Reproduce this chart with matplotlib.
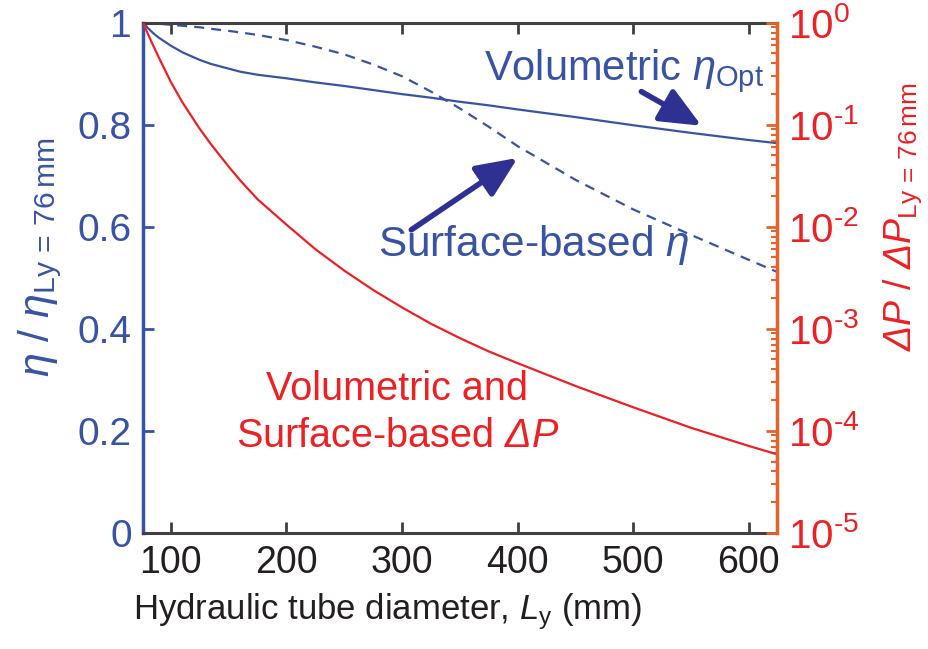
import numpy as np
import matplotlib
matplotlib.use("Agg")
import matplotlib.pyplot as plt
from matplotlib.ticker import LogLocator, NullFormatter, FuncFormatter

plt.rcParams['font.family'] = ['Liberation Sans', 'DejaVu Sans']
plt.rcParams['mathtext.fontset'] = 'custom'
plt.rcParams['mathtext.rm'] = 'Liberation Sans'
plt.rcParams['mathtext.it'] = 'Liberation Sans:italic'
plt.rcParams['mathtext.bf'] = 'Liberation Sans:bold'
# sf slot used for italic capital Greek (ΔP), which \mathit keeps upright
plt.rcParams['mathtext.sf'] = 'Liberation Sans:italic'
plt.rcParams['axes.unicode_minus'] = False

# hydraulic tube diameter Ly (mm)
ly = [76, 80, 85, 90, 100, 110, 125, 135, 150, 160, 175, 200, 225, 250, 275, 300,
      325, 350, 375, 400, 450, 500, 550, 600, 624]
# normalised efficiency, volumetric (optimum)
eta_vol = [1.0, 0.990, 0.979, 0.970, 0.955, 0.942, 0.927, 0.919, 0.910, 0.904, 0.898,
           0.891, 0.883, 0.876, 0.868, 0.860, 0.853, 0.845, 0.838, 0.830, 0.815, 0.799,
           0.784, 0.770, 0.764]
# normalised efficiency, surface-based
eta_surf = [1.0, 1.0, 0.999, 0.998, 0.996, 0.994, 0.991, 0.988, 0.984, 0.981, 0.976,
            0.966, 0.953, 0.938, 0.918, 0.895, 0.865, 0.832, 0.796, 0.758, 0.692, 0.634,
            0.584, 0.535, 0.512]
# normalised pressure drop (same for both approaches)
dp = [1.0, 0.785, 0.589, 0.447, 0.263, 0.166, 0.0912, 0.0638, 0.0389, 0.0285, 0.0186,
      0.0105, 0.00603, 0.00372, 0.0024, 0.00162, 0.00112, 8.1e-4, 6.0e-4, 4.6e-4,
      2.75e-4, 1.7e-4, 1.07e-4, 7.1e-5, 5.9e-5]

xticks = [100, 200, 300, 400, 500, 600]
yticks_left = [0, 0.2, 0.4, 0.6, 0.8, 1]
ytick_labels = ['0', '0.2', '0.4', '0.6', '0.8', '1']

blue = '#3953a4'
navy = '#2e3192'
red = '#ed2024'
orange = '#e5622b'
gray = '#404040'
black = '#231f20'

fig = plt.figure(figsize=(9.29, 6.49), dpi=100)
ax = fig.add_axes([0.154, 0.179, 0.682, 0.786])
ax2 = ax.twinx()

ax.plot(ly, eta_vol, color=blue, lw=1.6)
ax.plot(ly, eta_surf, color=blue, lw=1.6, linestyle=(0, (4.5, 3.2)))
ax2.plot(ly, dp, color=red, lw=1.6)

ax.set_xlim(76, 624)
ax.set_ylim(0, 1)
ax2.set_yscale('log')
ax2.set_ylim(1e-5, 1)

ax.set_xticks(xticks)
ax.set_yticks(yticks_left)
ax.set_yticklabels(ytick_labels)
ax.tick_params(axis='x', direction='in', top=True, length=8, width=2, color=gray,
               labelsize=27, labelcolor=black, pad=9)
ax.tick_params(axis='y', direction='in', length=8, width=2, color=blue,
               labelsize=28, labelcolor=blue, pad=8)


def decade(v, pos):
    return r'$10^{\text{%d}}$' % int(round(np.log10(v)))


ax2.yaxis.set_major_locator(LogLocator(base=10, numticks=10))
ax2.yaxis.set_major_formatter(FuncFormatter(decade))
ax2.yaxis.set_minor_locator(LogLocator(base=10, subs=np.arange(2, 10), numticks=10))
ax2.yaxis.set_minor_formatter(NullFormatter())
ax2.tick_params(axis='y', which='major', direction='in', length=8, width=2, color=orange,
                labelsize=29, labelcolor=red, pad=8)
ax2.tick_params(axis='y', which='minor', direction='in', length=4, width=1.5, color=orange)

for s in ['top', 'bottom']:
    ax.spines[s].set_color(gray)
    ax.spines[s].set_linewidth(2.2)
ax.spines['left'].set_color(blue)
ax.spines['left'].set_linewidth(2.5)
ax.spines['right'].set_visible(False)
ax2.spines['left'].set_visible(False)
ax2.spines['top'].set_visible(False)
ax2.spines['bottom'].set_visible(False)
ax2.spines['right'].set_color(orange)
ax2.spines['right'].set_linewidth(2.5)

ax.set_xlabel(r'Hydraulic tube diameter, $L_{\mathrm{y}}$ (mm)', fontsize=25, color=black)
ax.xaxis.set_label_coords(0.386, -0.115)
ax.set_ylabel(r'$\eta$ / $\eta_{\mathrm{Ly\,=\,76\,mm}}$', fontsize=31, color=blue)
ax.yaxis.set_label_coords(-0.125, 0.54)
ax2.set_ylabel(r'$\mathsf{ΔP}$ / $\mathsf{ΔP}_{\mathrm{Ly\,=\,76\,mm}}$', fontsize=27,
               color=red)
ax2.yaxis.set_label_coords(1.165, 0.62)

ax.text(492, 0.904, r'Volumetric $\eta_{\mathrm{Opt}}$', fontsize=30, color=blue,
        ha='center', va='center')
ax.text(414, 0.565, r'Surface-based $\eta$', fontsize=30.5, color=blue,
        ha='center', va='center')
ax.text(296, 0.235, 'Volumetric and\nSurface-based $\\mathsf{ΔP}$', fontsize=28.5, color=red,
        ha='center', va='center', linespacing=1.3)

arrow = dict(arrowstyle='-|>,head_length=1.25,head_width=0.55', lw=4, color=navy,
             mutation_scale=20, shrinkA=0, shrinkB=0)
ax.annotate('', xy=(559, 0.798), xytext=(507, 0.865), arrowprops=arrow)
ax.annotate('', xy=(400, 0.735), xytext=(308, 0.594), arrowprops=arrow)

fig.savefig('out.png', dpi=100)
